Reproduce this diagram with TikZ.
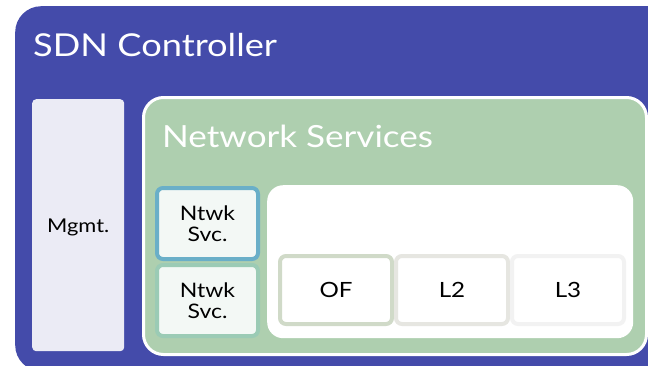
\documentclass[tikz,border=0pt]{standalone}
\usepackage{fontspec}
\setmainfont{Lato}[FakeStretch=1.15]
\definecolor{sdnblue}{HTML}{444BAA}
\definecolor{nsgreen}{HTML}{AECFAF}
\definecolor{mgmtfill}{HTML}{EBEBF5}
\definecolor{svcfill}{HTML}{F3F8F5}
\definecolor{svcblue}{HTML}{6AAFC8}
\definecolor{svcgreen}{HTML}{9BCBB5}
\definecolor{ofline}{HTML}{D0DAC8}
\definecolor{ltwo}{HTML}{E6E6E1}
\definecolor{lthree}{HTML}{F2F2F2}
\tikzset{
  box/.style={rectangle, inner sep=0pt, anchor=north west},
  svc/.style={box, fill=svcfill, line width=4pt, rounded corners=6pt, minimum width=101pt, minimum height=71pt, font=\fontsize{20}{21}\selectfont, align=center},
  proto/.style={box, fill=white, line width=4pt, rounded corners=6pt, minimum width=112pt, minimum height=68pt, font=\fontsize{21}{22}\selectfont},
}
\begin{document}
\begin{tikzpicture}[x=1pt,y=-1pt]
\useasboundingbox (0,0) rectangle (648,365);
\fill[white] (0,0) rectangle (648,365);
\begin{scope}
\clip (0,0) rectangle (648,365);
\node[box, fill=sdnblue, rounded corners=26pt, minimum width=660pt, minimum height=365pt] (sdn) at (15,6) {};
\end{scope}
\node[anchor=west, text=white, font=\fontsize{31.5}{33}\selectfont, inner sep=0pt] (sdnlabel) at (33,45) {SDN Controller};
\node[box, fill=mgmtfill, rounded corners=4pt, minimum width=92pt, minimum height=252pt] (mgmt) at (32,99) {};
\node[font=\fontsize{19}{20}\selectfont] (mgmtlabel) at ([yshift=-2pt]mgmt.center) {Mgmt.};
\node[box, fill=nsgreen, draw=white, line width=3pt, rounded corners=20pt, minimum width=503pt, minimum height=257pt] (ns) at (142,96) {};
\node[anchor=west, text=white, font=\fontsize{30.5}{32}\selectfont, inner sep=0pt] (nslabel) at (162,136) {Network Services};
\node[box, fill=white, rounded corners=16pt, minimum width=366pt, minimum height=153pt] (panel) at (267,185) {};
\node[svc, draw=svcblue] (svcA) at (155,186) {Ntwk\\Svc.};
\node[svc, draw=svcgreen] (svcB) at (155,263) {Ntwk\\Svc.};
\node[proto, draw=ofline] (of) at (278,254) {OF};
\node[proto, draw=ltwo] (l2) at (394,254) {L2};
\node[proto, draw=lthree] (l3) at (510,254) {L3};
\end{tikzpicture}
\end{document}
